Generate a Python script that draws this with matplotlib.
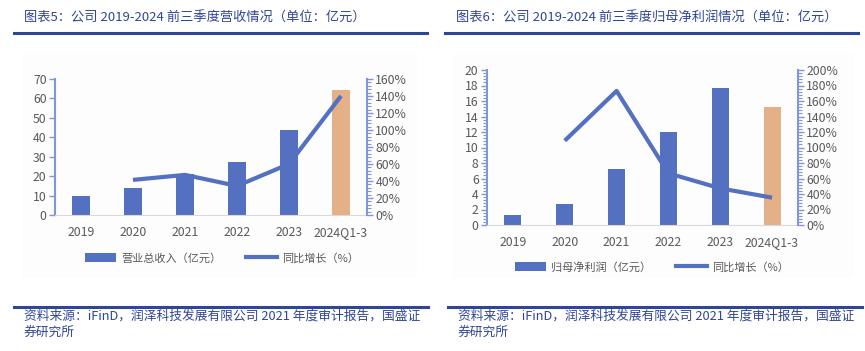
import matplotlib.pyplot as plt
from matplotlib.lines import Line2D
from matplotlib.patches import Patch, Rectangle
from matplotlib.ticker import MultipleLocator, PercentFormatter

plt.rcParams['font.family'] = ['Noto Sans CJK SC', 'DejaVu Sans']

years = ['2019', '2020', '2021', '2022', '2023', '2024Q1-3']
revenue = [9.8, 13.9, 21.0, 27.2, 43.6, 64.5]
revenue_yoy = [None, 41.3, 47.2, 34.2, 60.0, 140.0]
profit = [1.3, 2.7, 7.2, 12.0, 17.7, 15.2]
profit_yoy = [None, 108.8, 173.0, 66.7, 47.3, 35.3]

title_left = '图表5：公司 2019-2024 前三季度营收情况（单位：亿元）'
title_right = '图表6：公司 2019-2024 前三季度归母净利润情况（单位：亿元）'
source = '资料来源：iFinD，润泽科技发展有限公司 2021 年度审计报告，国盛证\n券研究所'

BLUE = '#5470c0'
ORANGE = '#e3b088'
SPINE = '#8096d6'
DARK = '#2e4599'
GREY = '#595959'

W, H = 865, 351
fig = plt.figure(figsize=(W / 100, H / 100), dpi=100)


def px(x0, y0, x1, y1):
    return [x0 / W, 1 - y1 / H, (x1 - x0) / W, (y1 - y0) / H]


def panel(rect, bars, yoy, ymax, ystep, rmax, rstep, left_minor):
    ax = fig.add_axes(rect)
    x = range(len(years))
    colors = [BLUE] * (len(years) - 1) + [ORANGE]
    ax.bar(x, bars, width=0.33, color=colors, zorder=2)
    ax.set_xlim(-0.5, len(years) - 0.5)
    ax.set_ylim(0, ymax)
    ax.yaxis.set_major_locator(MultipleLocator(ystep))
    ax.set_xticks(list(x))
    ax.set_xticklabels(years)
    ax2 = ax.twinx()
    xs = [i for i, v in enumerate(yoy) if v is not None]
    ys = [v for v in yoy if v is not None]
    ax2.plot(xs, ys, color=BLUE, lw=3, solid_capstyle='butt', zorder=3)
    ax2.set_ylim(0, rmax)
    ax2.yaxis.set_major_locator(MultipleLocator(rstep))
    ax2.yaxis.set_minor_locator(MultipleLocator(rstep / 5))
    ax2.yaxis.set_major_formatter(PercentFormatter(decimals=0))
    if left_minor:
        ax.yaxis.set_minor_locator(MultipleLocator(ystep / 5))
    for a in (ax, ax2):
        for s in a.spines.values():
            s.set_visible(False)
        a.patch.set_visible(False)
        a.tick_params(colors=GREY, labelsize=8.8, length=4, width=1, pad=2)
        a.tick_params(axis='y', color=SPINE)
        a.tick_params(which='minor', color=SPINE, length=3, width=0.8)
    ax.spines['left'].set_visible(True)
    ax.spines['left'].set_color(SPINE)
    ax.spines['left'].set_linewidth(1.5)
    ax.spines['bottom'].set_visible(True)
    ax.spines['bottom'].set_color('#d9d9d9')
    ax2.spines['right'].set_visible(True)
    ax2.spines['right'].set_color(SPINE)
    ax2.spines['right'].set_linewidth(1.5)
    ax.tick_params(axis='x', length=0, pad=8)
    return ax


# light chart backgrounds
for bx0, bx1 in [(22, 417), (453, 853)]:
    fig.add_artist(Rectangle((bx0 / W, 1 - 278 / H), (bx1 - bx0) / W, 225 / H,
                             transform=fig.transFigure, facecolor='#fdfdfd',
                             edgecolor='none', zorder=-5))

panel(px(55, 79, 367, 215), revenue, revenue_yoy, 70, 10, 160, 20, False)
panel(px(487, 70, 798, 225), profit, profit_yoy, 20, 2, 200, 20, True)

# legends
for cx, cy, label in [(222, 258, '营业总收入（亿元）'), (652, 267, '归母净利润（亿元）')]:
    handles = [Patch(facecolor=BLUE, edgecolor='none'),
               Line2D([], [], color=BLUE, lw=3)]
    fig.legend(handles, [label, '同比增长（%）'], loc='center',
               bbox_to_anchor=(cx / W, 1 - cy / H), ncol=2, frameon=False,
               fontsize=8, labelcolor=GREY, handlelength=2.8, handleheight=0.8,
               columnspacing=2.2, handletextpad=0.5)

# titles and rules
for x0, x1, tx, title in [(14, 427, 24, title_left), (445, 858, 456, title_right)]:
    fig.text(tx / W, 1 - 18 / H, title, fontsize=9.5, color=DARK, style='italic',
             va='center', ha='left')
    fig.add_artist(Line2D([x0 / W, x1 / W], [1 - 33 / H, 1 - 33 / H],
                          color=DARK, lw=2.2))

for x0, x1, tx in [(14, 428, 24), (448, 862, 458)]:
    fig.add_artist(Line2D([x0 / W, x1 / W], [1 - 307 / H, 1 - 307 / H],
                          color=DARK, lw=2.2))
    fig.text(tx / W, 1 - 310 / H, source, fontsize=9.2, color=DARK,
             style='italic', va='top', ha='left', linespacing=1.3)

fig.savefig('out.png', dpi=100)
